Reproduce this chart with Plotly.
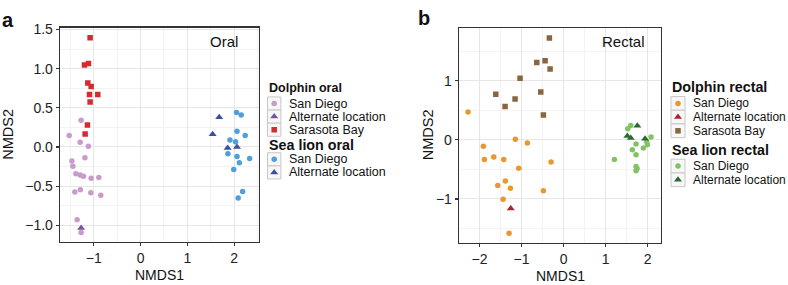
import plotly.graph_objects as go

# ---------------- data (NMDS coordinates) ----------------
# Panel a: oral
dol_oral_sd_x = [-1.269, -1.524, -1.29, -1.115, -1.188, -1.467, -1.445, -1.38, -1.29, -1.22,
                 -1.055, -0.891, -1.403, -1.284, -1.062, -0.849, -1.354, -1.269]
dol_oral_sd_y = [0.34, 0.146, 0.06, 0.009, -0.1375, -0.18, -0.245, -0.341, -0.359, -0.375,
                 -0.4, -0.391, -0.575, -0.546, -0.584, -0.616, -0.929, -1.091]
dol_oral_alt_x = [-1.269]
dol_oral_alt_y = [-1.034]
dol_oral_sb_x = [-1.077, -1.198, -1.113, -1.126, -1.055, -1.09, -0.913, -1.077, -1.134, -1.183]
dol_oral_sb_y = [1.396, 1.046, 1.066, 0.816, 0.771, 0.671, 0.671, 0.575, 0.279, 0.166]
sl_oral_sd_x = [2.05, 2.15, 2.06, 2.235, 1.91, 2.03, 1.866, 2.06, 2.33, 2.11, 1.99, 2.18, 2.085]
sl_oral_sd_y = [0.441, 0.409, 0.2, 0.146, 0.09, 0.066, -0.0875, -0.121, -0.146, -0.2, -0.2875, -0.567, -0.65]
sl_oral_alt_x = [1.68, 1.54, 1.86, 2.06]
sl_oral_alt_y = [0.379, 0.1625, -0.0125, 0.0]

# Panel b: rectal
dol_rec_sd_x = [-2.274, -1.148, -0.862, -1.91, -1.886, -1.662, -1.424, -1.067, -1.567, -1.386,
                -1.267, -1.44, -1.298, -0.298, -0.481]
dol_rec_sd_y = [0.471, 0.01, -0.055, -0.11, -0.332, -0.292, -0.332, -0.481, -0.773, -0.697,
                -0.818, -1.005, -1.58, -0.375, -0.862]
dol_rec_alt_x = [-1.257]
dol_rec_alt_y = [-1.161]
dol_rec_sb_x = [-1.036, -1.614, -1.155, -1.393, -0.338, -0.638, -0.44, -0.321, -0.543, -0.48]
dol_rec_sb_y = [1.045, 0.774, 0.69, 0.564, 1.725, 1.31, 1.338, 1.2, 0.808, 0.421]
sl_rec_sd_x = [1.6, 1.529, 2.083, 1.98, 1.726, 1.995, 1.9, 1.638, 1.726, 1.21, 1.726, 1.75, 1.726]
sl_rec_sd_y = [0.244, 0.189, 0.05, -0.033, -0.071, -0.083, -0.138, -0.166, -0.254, -0.332, -0.453, -0.486, -0.524]
sl_rec_alt_x = [1.519, 1.6, 1.757, 1.94]
sl_rec_alt_y = [0.066, 0.033, 0.239, 0.017]

legend_a_titles = ["Dolphin oral", "Sea lion oral"]
legend_b_titles = ["Dolphin rectal", "Sea lion rectal"]
dolphin_labels = ["San Diego", "Alternate location", "Sarasota Bay"]
sealion_labels = ["San Diego", "Alternate location"]

# ---------------- styling ----------------
C = dict(
    dol_oral_sd="#c99bcb", dol_oral_alt="#7b52a0", dol_oral_sb="#d52a2f",
    sl_oral_sd="#4f9fdc", sl_oral_alt="#3b4fa0",
    dol_rec_sd="#e8982f", dol_rec_alt="#a8242f", dol_rec_sb="#8a6640",
    sl_rec_sd="#82c464", sl_rec_alt="#2c6a34",
)
SYM = {"circle": 5.5, "triangle-up": 7, "square": 5.5}
FONT = "Liberation Sans, Arial, Helvetica, sans-serif"
W, H = 788, 285


def fx(x):
    return x / W


def fy(y):
    return 1 - y / H


fig = go.Figure()


def add(x, y, sym, color, xa, ya):
    fig.add_trace(go.Scatter(x=x, y=y, mode="markers", showlegend=False, hoverinfo="skip",
                             marker=dict(symbol=sym, color=color, size=SYM[sym], line_width=0),
                             xaxis=xa, yaxis=ya))


add(dol_oral_sd_x, dol_oral_sd_y, "circle", C["dol_oral_sd"], "x", "y")
add(dol_oral_sb_x, dol_oral_sb_y, "square", C["dol_oral_sb"], "x", "y")
add(dol_oral_alt_x, dol_oral_alt_y, "triangle-up", C["dol_oral_alt"], "x", "y")
add(sl_oral_sd_x, sl_oral_sd_y, "circle", C["sl_oral_sd"], "x", "y")
add(sl_oral_alt_x, sl_oral_alt_y, "triangle-up", C["sl_oral_alt"], "x", "y")

add(dol_rec_sd_x, dol_rec_sd_y, "circle", C["dol_rec_sd"], "x2", "y2")
add(dol_rec_sb_x, dol_rec_sb_y, "square", C["dol_rec_sb"], "x2", "y2")
add(dol_rec_alt_x, dol_rec_alt_y, "triangle-up", C["dol_rec_alt"], "x2", "y2")
add(sl_rec_sd_x, sl_rec_sd_y, "circle", C["sl_rec_sd"], "x2", "y2")
add(sl_rec_alt_x, sl_rec_alt_y, "triangle-up", C["sl_rec_alt"], "x2", "y2")

axis_common = dict(
    showline=True, mirror=True, linecolor="#333333", linewidth=1.3,
    ticks="outside", ticklen=3, tickcolor="#333333", tickwidth=1.2,
    showgrid=True, gridcolor="#e6e6e6", gridwidth=1, zeroline=False,
    tickfont=dict(family=FONT, size=14, color="#222222"),
)

fig.update_layout(
    width=W, height=H, margin=dict(l=0, r=0, t=0, b=0),
    paper_bgcolor="white", plot_bgcolor="rgba(0,0,0,0)",
    font=dict(family=FONT),
    xaxis=dict(domain=[fx(60), fx(259)], range=[-1.72, 2.53], dtick=1, tick0=0, anchor="y",
               minor=dict(dtick=0.5, tick0=0, showgrid=True, gridcolor="#f3f3f3"), **axis_common),
    yaxis=dict(domain=[fy(241), fy(22)], range=[-1.2125, 1.525], dtick=0.5, tick0=0, tickformat=".1f",
               anchor="x", minor=dict(dtick=0.25, tick0=0, showgrid=True, gridcolor="#f3f3f3"), **axis_common),
    xaxis2=dict(domain=[fx(459), fx(661)], range=[-2.49, 2.32], dtick=1, tick0=0, anchor="y2",
                minor=dict(dtick=0.5, tick0=0, showgrid=True, gridcolor="#f3f3f3"), **axis_common),
    yaxis2=dict(domain=[fy(241.7), fy(22.7)], range=[-1.74, 1.89], dtick=1, tick0=0, anchor="x2",
                minor=dict(dtick=0.5, tick0=0, showgrid=True, gridcolor="#f3f3f3"), **axis_common),
    # hidden pixel-space overlay used for legend keys
    xaxis3=dict(domain=[0, 1], range=[0, W], visible=False, anchor="y3", fixedrange=True),
    yaxis3=dict(domain=[0, 1], range=[H, 0], visible=False, anchor="x3", fixedrange=True),
)

ann = []
shapes = []


def text(x, y, s, size, bold=False, xanchor="left", angle=0, color="#111111"):
    ann.append(dict(x=fx(x), y=fy(y), xref="paper", yref="paper", text=f"<b>{s}</b>" if bold else s,
                    showarrow=False, xanchor=xanchor, yanchor="middle", textangle=angle,
                    font=dict(family=FONT, size=size, color=color)))


# panel letters, facet labels, axis titles
text(0, 14, "a", 20, bold=True)
text(416, 12, "b", 20, bold=True)
text(240, 36, "Oral", 15, xanchor="right")
text(647, 36, "Rectal", 15, xanchor="right")
text(159.5, 275, "NMDS1", 14, xanchor="center")
text(560, 275.5, "NMDS1", 14, xanchor="center")
text(8.5, 131, "NMDS2", 14.5, xanchor="center", angle=-90)
text(428, 131, "NMDS2", 14.5, xanchor="center", angle=-90)


def legend(x0, box, title_rows, titles, title_sizes, groups, item_size):
    for t, ty, ts in zip(titles, title_rows, title_sizes):
        text(x0 - 1, ty, t, ts, bold=True)
    for grp in groups:
        for lab, sym, col, ry in grp:
            shapes.append(dict(type="rect", xref="paper", yref="paper",
                               x0=fx(x0), x1=fx(x0 + box), y0=fy(ry + box / 2), y1=fy(ry - box / 2),
                               line=dict(color="#c8c8c8", width=1), fillcolor="#f7f7f7", layer="below"))
            fig.add_trace(go.Scatter(x=[x0 + box / 2], y=[ry], mode="markers", showlegend=False,
                                     hoverinfo="skip", xaxis="x3", yaxis="y3",
                                     marker=dict(symbol=sym, color=col, size=SYM[sym], line_width=0)))
            text(x0 + box + 6, ry, lab, item_size)


legend(267.5, 13.4, [83.3, 141.7], legend_a_titles, [12.5, 14.3], [
    [(dolphin_labels[0], "circle", C["dol_oral_sd"], 99.6),
     (dolphin_labels[1], "triangle-up", C["dol_oral_alt"], 113.0),
     (dolphin_labels[2], "square", C["dol_oral_sb"], 126.4)],
    [(sealion_labels[0], "circle", C["sl_oral_sd"], 156.6),
     (sealion_labels[1], "triangle-up", C["sl_oral_alt"], 170.0)],
], 12.5)
legend(671, 14, [82.7, 147.3], legend_b_titles, [14.3, 14.3], [
    [(dolphin_labels[0], "circle", C["dol_rec_sd"], 99.5),
     (dolphin_labels[1], "triangle-up", C["dol_rec_alt"], 113.5),
     (dolphin_labels[2], "square", C["dol_rec_sb"], 127.5)],
    [(sealion_labels[0], "circle", C["sl_rec_sd"], 163.5),
     (sealion_labels[1], "triangle-up", C["sl_rec_alt"], 177.5)],
], 12)

fig.update_layout(annotations=ann, shapes=shapes)
fig.write_html("out.html", config={"displayModeBar": False, "staticPlot": True},
               post_script="document.body.style.margin='0';document.body.style.overflow='hidden';")
